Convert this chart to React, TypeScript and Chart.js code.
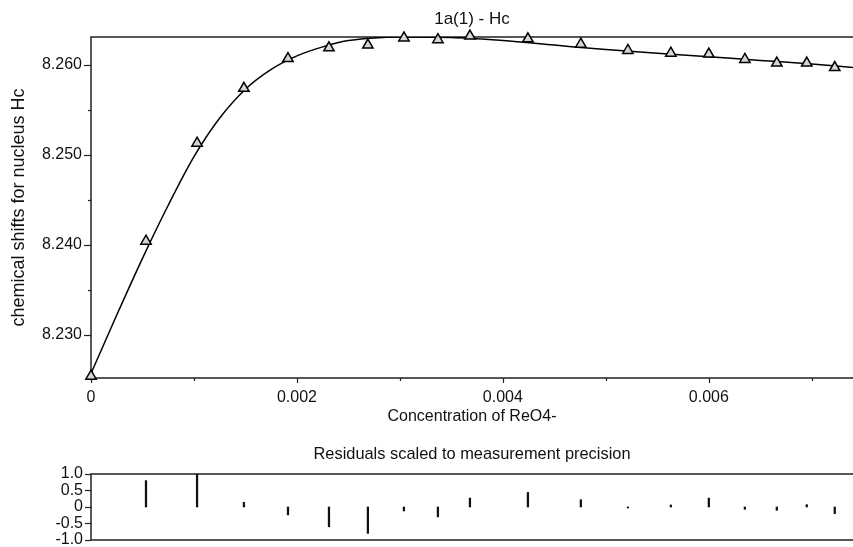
import React, { useEffect, useRef } from "react";
import { Chart, registerables } from "chart.js";

Chart.register(...registerables);

// ---- data ----
const concentration = [
  0, 0.000534, 0.00103, 0.001485, 0.001913, 0.002311, 0.002689, 0.003039, 0.003369,
  0.00368, 0.004243, 0.004757, 0.005214, 0.005631, 0.006, 0.00635, 0.00666, 0.006951, 0.007223,
];
const measuredShift = [
  8.2254, 8.2404, 8.2513, 8.2574, 8.2607, 8.2619, 8.2622, 8.263, 8.2628,
  8.2632, 8.2629, 8.2623, 8.2616, 8.2613, 8.2612, 8.2606, 8.2602, 8.2602, 8.2597,
];
const fitX = [
  0, 0.00025, 0.0005, 0.00075, 0.001, 0.00125, 0.0015, 0.00175, 0.002, 0.00225, 0.0025,
  0.00275, 0.003, 0.0035, 0.004, 0.0045, 0.005, 0.0055, 0.006, 0.0065, 0.007, 0.0074,
];
const fitShift = [
  8.2257, 8.2322, 8.2385, 8.2444, 8.2498, 8.2541, 8.2573, 8.2595, 8.261, 8.262, 8.2627,
  8.263, 8.2631, 8.26305, 8.2627, 8.2622, 8.2617, 8.2613, 8.2609, 8.2605, 8.2601, 8.2597,
];
const residuals = [
  0, 0.8, 1.0, 0.14, -0.24, -0.6, -0.8, -0.12, -0.3, 0.27, 0.44, 0.22, -0.03, 0.06,
  0.27, -0.07, -0.1, 0.07, -0.2,
];
const xTicks = [0, 0.002, 0.004, 0.006];
const xTickLabels = ["0", "0.002", "0.004", "0.006"];
const xMinorTicks = [0.001, 0.003, 0.005, 0.007];
const yTicks = [8.23, 8.24, 8.25, 8.26];
const yTickLabels = ["8.230", "8.240", "8.250", "8.260"];
const yMinorTicks = [8.235, 8.245, 8.255];
const resTicks = [-1, -0.5, 0, 0.5, 1];
const resTickLabels = ["-1.0", "-0.5", "0", "0.5", "1.0"];

const FONT = "'Liberation Sans', Arial, sans-serif";
const TEXT = "#111";
const LINE = "#222";

const framePlugin = {
  id: "frame",
  beforeDatasetsDraw(chart: any, _args: any, opts: any) {
    const { ctx, chartArea: a, scales } = chart;
    ctx.save();
    ctx.strokeStyle = LINE;
    ctx.lineWidth = 1.5;
    ctx.beginPath();
    ctx.moveTo(a.right, a.top);
    ctx.lineTo(a.left, a.top);
    ctx.lineTo(a.left, a.bottom);
    ctx.lineTo(a.right, a.bottom);
    ctx.stroke();
    ctx.lineWidth = 1.2;
    (opts.marks || []).forEach((m: any) => {
      const s = scales[m.axis];
      m.values.forEach((v: number) => {
        const p = Math.round(s.getPixelForValue(v)) + 0.5;
        ctx.beginPath();
        if (m.axis === "x") {
          ctx.moveTo(p, a.bottom);
          ctx.lineTo(p, a.bottom + m.len);
        } else {
          ctx.moveTo(a.left, p);
          ctx.lineTo(a.left - m.len, p);
        }
        ctx.stroke();
      });
    });
    ctx.restore();
  },
};

const noPad = (s: any) => {
  s.paddingLeft = 0;
  s.paddingRight = 0;
  s.paddingTop = 0;
  s.paddingBottom = 0;
};

export default function App() {
  const mainRef = useRef<HTMLCanvasElement>(null);
  const resRef = useRef<HTMLCanvasElement>(null);

  useEffect(() => {
    const tickFont = { family: FONT, size: 16, weight: "normal" as const };
    const titleFont = { family: FONT, size: 17, weight: "normal" as const };
    const xTitleFont = { family: FONT, size: 16, weight: "normal" as const };
    const resTitleFont = { family: FONT, size: 16.4, weight: "normal" as const };
    const yTitleFont = { family: FONT, size: 18, weight: "normal" as const };
    const main = new Chart(mainRef.current!, {
      type: "scatter",
      data: {
        datasets: [
          {
            label: "fit",
            data: fitX.map((x, i) => ({ x, y: fitShift[i] })),
            showLine: true,
            borderColor: "#000",
            borderWidth: 1.5,
            pointRadius: 0,
            cubicInterpolationMode: "monotone",
            order: 2,
          },
          {
            label: "measured",
            data: concentration.map((x, i) => ({ x, y: measuredShift[i] })),
            pointStyle: "triangle",
            pointRadius: 6,
            backgroundColor: "#d6d6d6",
            borderColor: "#000",
            borderWidth: 1.5,
            clip: false,
            order: 1,
          } as any,
        ],
      },
      options: {
        animation: false,
        responsive: false,
        layout: { padding: 0, autoPadding: false },
        plugins: {
          legend: { display: false },
          tooltip: { enabled: false },
          title: {
            display: true,
            text: "1a(1) - Hc",
            fullSize: false,
            color: TEXT,
            font: titleFont,
            padding: { top: 9, bottom: 7.6 },
          },
          frame: {
            marks: [
              { axis: "x", values: xTicks, len: 5 },
              { axis: "x", values: xMinorTicks, len: 3 },
              { axis: "y", values: yTicks, len: 7 },
              { axis: "y", values: yMinorTicks, len: 3 },
            ],
          },
        } as any,
        scales: {
          x: {
            type: "linear",
            min: 0,
            max: 0.0074,
            afterBuildTicks: (s: any) => {
              s.ticks = xTicks.map((v) => ({ value: v }));
            },
            afterFit: (s: any) => {
              s.height = 54;
              noPad(s);
            },
            grid: { display: false, drawTicks: false },
            border: { display: false },
            ticks: {
              color: TEXT,
              font: tickFont,
              padding: 10,
              maxRotation: 0,
              autoSkip: false,
              callback: (_v: any, i: number) => xTickLabels[i],
            },
            title: {
              display: true,
              text: "Concentration of ReO4-",
              color: TEXT,
              font: xTitleFont,
              padding: { top: 0, bottom: 6 },
            },
          },
          y: {
            type: "linear",
            min: 8.2252,
            max: 8.2631,
            afterBuildTicks: (s: any) => {
              s.ticks = yTicks.map((v) => ({ value: v }));
            },
            afterFit: (s: any) => {
              s.width = 91;
              noPad(s);
            },
            grid: { display: false, drawTicks: false },
            border: { display: false },
            ticks: {
              color: TEXT,
              font: tickFont,
              padding: 9,
              autoSkip: false,
              callback: (_v: any, i: number) => yTickLabels[i],
            },
            title: {
              display: true,
              text: "chemical shifts for nucleus Hc",
              color: TEXT,
              font: yTitleFont,
              padding: { top: 8, bottom: 0 },
            },
          },
        },
      },
      plugins: [framePlugin],
    });

    const res = new Chart(resRef.current!, {
      type: "bar",
      data: {
        datasets: [
          {
            label: "residuals",
            data: concentration.map((x, i) => ({ x, y: residuals[i] })),
            backgroundColor: "#111",
            borderWidth: 0,
            barThickness: 1.6,
            grouped: false,
          } as any,
        ],
      },
      options: {
        animation: false,
        responsive: false,
        layout: { padding: { left: 0, right: 0, top: 0, bottom: 7 }, autoPadding: false },
        plugins: {
          legend: { display: false },
          tooltip: { enabled: false },
          title: {
            display: true,
            text: "Residuals scaled to measurement precision",
            fullSize: false,
            color: TEXT,
            font: resTitleFont,
            padding: { top: 13, bottom: 9.3 },
          },
          frame: {
            marks: [{ axis: "y", values: resTicks, len: 6 }],
          },
        } as any,
        scales: {
          x: {
            type: "linear",
            min: 0,
            max: 0.0074,
            offset: false,
            display: false,
          },
          y: {
            type: "linear",
            min: -1,
            max: 1,
            afterBuildTicks: (s: any) => {
              s.ticks = resTicks.map((v) => ({ value: v }));
            },
            afterFit: (s: any) => {
              s.width = 91;
              noPad(s);
            },
            grid: { display: false, drawTicks: false },
            border: { display: false },
            ticks: {
              color: TEXT,
              font: tickFont,
              padding: 8,
              autoSkip: false,
              callback: (_v: any, i: number) => resTickLabels[i],
            },
          },
        },
      },
      plugins: [framePlugin],
    });

    return () => {
      main.destroy();
      res.destroy();
    };
  }, []);

  return (
    <div
      style={{
        position: "fixed",
        left: 0,
        top: 0,
        width: 853,
        height: 547,
        background: "#fff",
        overflow: "hidden",
      }}
    >
      <canvas
        ref={mainRef}
        width={853}
        height={432}
        style={{ display: "block", width: 853, height: 432 }}
      />
      <canvas
        ref={resRef}
        width={853}
        height={115}
        style={{ display: "block", width: 853, height: 115 }}
      />
    </div>
  );
}
